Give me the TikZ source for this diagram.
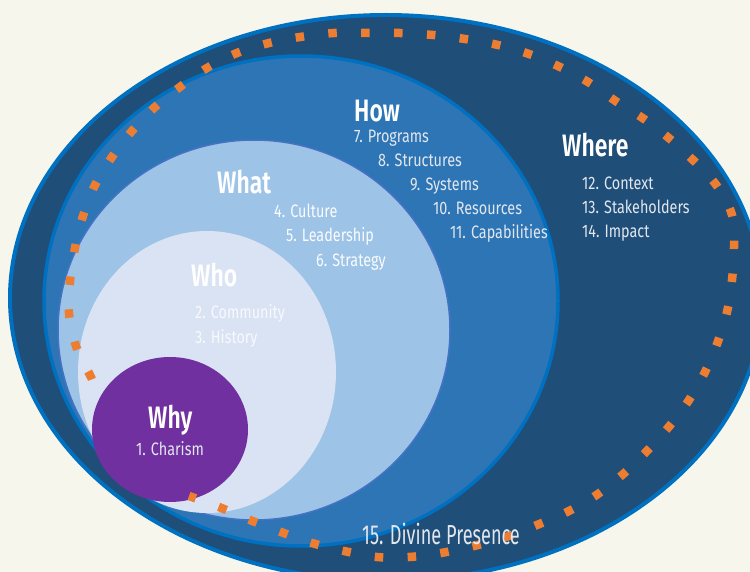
\documentclass[tikz,border=0pt]{standalone}
\usepackage{fontspec}
\setmainfont{Fira Sans}
\newfontfamily\itemfont{Fira Sans}[FakeStretch=0.8]
\newfontfamily\titlefont{Fira Sans SemiBold}[FakeStretch=0.74]
\newfontfamily\bigfont{Fira Sans}[FakeStretch=0.66]

\definecolor{paper}{HTML}{F6F6EC}
\definecolor{navy}{HTML}{1F4E79}
\definecolor{rim}{HTML}{0070C0}
\definecolor{midblue}{HTML}{2E75B6}
\definecolor{skyblue}{HTML}{9DC3E6}
\definecolor{skyrim}{HTML}{4472C4}
\definecolor{paleblue}{HTML}{DAE3F3}
\definecolor{plum}{HTML}{7030A0}
\definecolor{dotorange}{HTML}{ED7D31}
\definecolor{itemgray}{HTML}{E2E7EE}

\begin{document}
\begin{tikzpicture}[x=1pt,y=-1pt,
  title/.style={anchor=base west, inner sep=0pt, text=white,
    font=\titlefont\fontsize{31}{31}\selectfont},
  item/.style={anchor=base west, inner sep=0pt, text=itemgray,
    font=\itemfont\fontsize{18}{18}\selectfont},
  squaredots/.style={draw=dotorange, line width=8.5pt, line cap=butt,
    dash pattern=on 8.5pt off 24.4pt}]

% page and background
\useasboundingbox (0,0) rectangle (750,572);
\clip (0,0) rectangle (750,572);
\fill[paper] (0,0) rectangle (750,572);

% nested ellipses, outermost first
\filldraw[fill=navy, draw=rim, line width=4pt]
  (386,298) ellipse [x radius=376pt, y radius=283pt];
\filldraw[fill=midblue, draw=rim, line width=3.5pt]
  (301,301) ellipse [x radius=257pt, y radius=245pt];
\filldraw[fill=skyblue, draw=skyrim, line width=1.5pt]
  (254,330) ellipse [x radius=196pt, y radius=190pt];
\fill[paleblue] (207,372) ellipse [x radius=129pt, y radius=141pt];
\fill[plum] (170,429.5) ellipse [x radius=78pt, y radius=72.5pt];

% orange arc of square dots
\draw[squaredots]
  plot[smooth, tension=0.6] coordinates {
    (91.9,378.8)
    (90,375) (76,346) (69,313) (70,281) (75,248) (83,216) (95,185)
    (112,157) (132,131) (155,107) (180,87) (207,68) (237,53) (269,43)
    (300,37) (334,33) (367,33) (400,33) (433,35) (465,39) (498,45)
    (529,54) (560,67) (588,82) (617,102) (644,119) (670,139) (694,161)
    (717,186) (732,215) (734,247) (732,280) (727,312) (717,344)
    (704,374) (687,403) (667,429) (645,453) (621,476) (595,496)
    (567,512) (537,525) (506,537) (474,546) (441,553) (409,557)
    (377,557) (344,551) (312,543) (281,532) (250,520) (219,507)
    (189,496)};

% How
\node[title] (how) at (354,122) {How};
\node[item] (i7) at (354,143) {7. Programs};
\node[item] (i8) at (378,167) {8. Structures};
\node[item] (i9) at (410,191) {9. Systems};
\node[item] (i10) at (433,215) {10. Resources};
\node[item] (i11) at (450,239) {11. Capabilities};

% Where
\node[title] (where) at (562,157) {Where};
\node[item] (i12) at (582,190) {12. Context};
\node[item] (i13) at (582,214) {13. Stakeholders};
\node[item] (i14) at (582,238) {14. Impact};

% What
\node[title] (what) at (217,194) {What};
\node[item, text=white!95!skyblue] (i4) at (274,218) {4. Culture};
\node[item, text=white!95!skyblue] (i5) at (286,242) {5. Leadership};
\node[item, text=white!95!skyblue] (i6) at (316,267) {6. Strategy};

% Who
\node[title] (who) at (191,287) {Who};
\node[item, text=white!80!paleblue] (i2) at (195,319) {2. Community};
\node[item, text=white!80!paleblue] (i3) at (195,343) {3. History};

% Why
\node[title] (why) at (148,428) {Why};
\node[item] (i1) at (136,455) {1. Charism};

% outermost label
\node[item, font=\bigfont\fontsize{27.5}{27.5}\selectfont] (i15) at (362,544) {15. Divine Presence};

\end{tikzpicture}
\end{document}
